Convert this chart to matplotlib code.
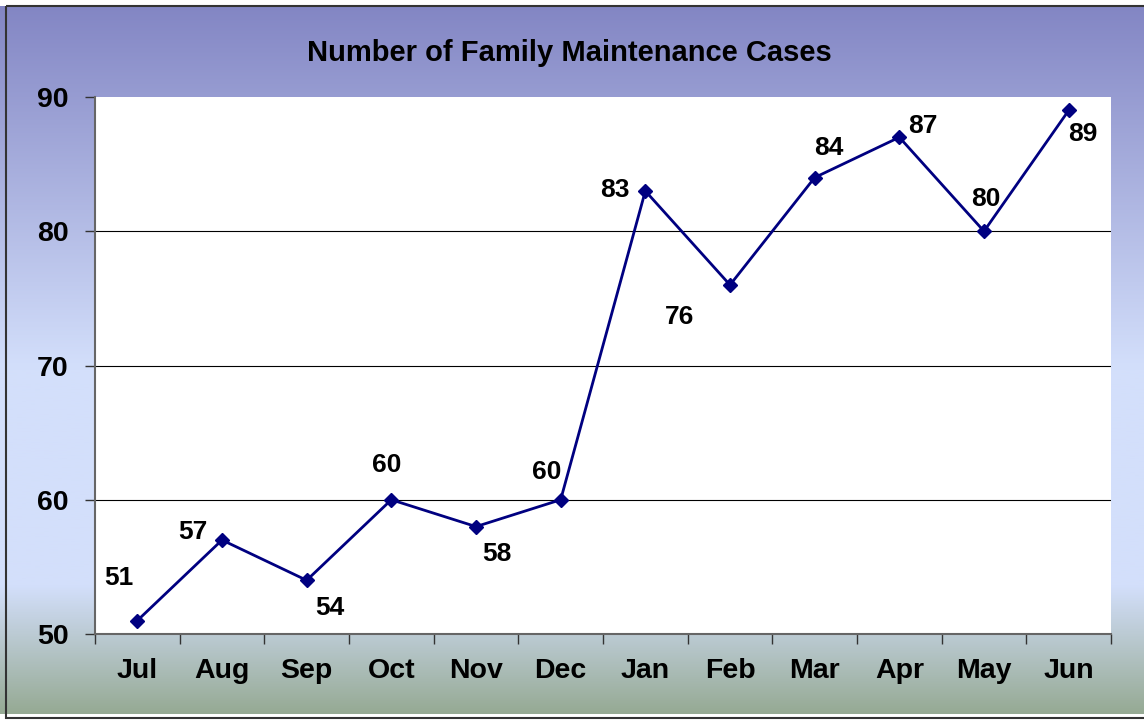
import numpy as np
import matplotlib.pyplot as plt
from matplotlib.colors import LinearSegmentedColormap
from matplotlib.patches import Rectangle

months = ["Jul", "Aug", "Sep", "Oct", "Nov", "Dec", "Jan", "Feb", "Mar", "Apr", "May", "Jun"]
cases = [51, 57, 54, 60, 58, 60, 83, 76, 84, 87, 80, 89]
yticks = [50, 60, 70, 80, 90]

# label offsets in points (dx, dy), placed by hand like the original
label_offsets = [(-13, 31), (-21, 6), (17, -20), (-3, 25), (15, -20), (-10, 20),
                 (-22, 1), (-36, -23), (10, 21), (17, 8), (1, 23), (10, -17)]

plt.rcParams["font.family"] = ["Liberation Sans", "DejaVu Sans"]
plt.rcParams["font.weight"] = "bold"

W, H = 1144, 720
fig = plt.figure(figsize=(W / 100, H / 100), dpi=100)

# background gradient
bg = fig.add_axes([0, 0, 1, 1], zorder=-10)
cmap = LinearSegmentedColormap.from_list(
    "bg", [(0.0, "#8386c4"), (0.51, "#d3dffb"), (0.82, "#d3dffb"), (1.0, "#96aa94")])
grad = np.linspace(0, 1, 256).reshape(-1, 1)
bg.imshow(grad, aspect="auto", cmap=cmap, extent=[0, W, H - 6, 6])
bg.add_patch(Rectangle((6, 6), W, H - 8, fill=False, edgecolor="#333333", lw=1.5))
bg.set_xlim(0, W)
bg.set_ylim(H, 0)
bg.axis("off")

ax = fig.add_axes([95 / W, 1 - 634 / H, (1111 - 95) / W, (634 - 97) / H])
ax.set_facecolor("white")
x = np.arange(len(months))
ax.plot(x, cases, color="#000080", lw=2, marker="D", ms=7.5, zorder=3)

for xi, v, (dx, dy) in zip(x, cases, label_offsets):
    ax.annotate(str(v), (xi, v), xytext=(dx, dy), textcoords="offset points",
                ha="center", va="center", fontsize=19, fontweight="bold")

ax.set_xlim(-0.5, len(months) - 0.5)
ax.set_ylim(50, 90)
ax.set_yticks(yticks)
ax.set_yticklabels([str(t) for t in yticks], fontsize=20.5, fontweight="bold")
ax.set_xticks(x)
ax.set_xticklabels(months, fontsize=20.5, fontweight="bold")
ax.set_xticks(np.arange(-0.5, len(months)), minor=True)
ax.tick_params(axis="x", which="major", length=0, pad=17)
ax.tick_params(axis="x", which="minor", length=7, width=1, color="#333333")
ax.tick_params(axis="y", length=7, width=1, color="#333333", pad=12)
ax.grid(axis="y", color="black", lw=0.8)
ax.yaxis.get_gridlines()[-1].set_visible(False)
ax.yaxis.get_gridlines()[0].set_visible(False)
ax.set_axisbelow(True)
for s in ["top", "right"]:
    ax.spines[s].set_visible(False)
for s in ["left", "bottom"]:
    ax.spines[s].set_color("#666666")
    ax.spines[s].set_linewidth(1.5)

fig.text(569 / W, 1 - 53 / H, "Number of Family Maintenance Cases",
         ha="center", va="center", fontsize=21, fontweight="bold")

fig.savefig("out.png", dpi=100)
